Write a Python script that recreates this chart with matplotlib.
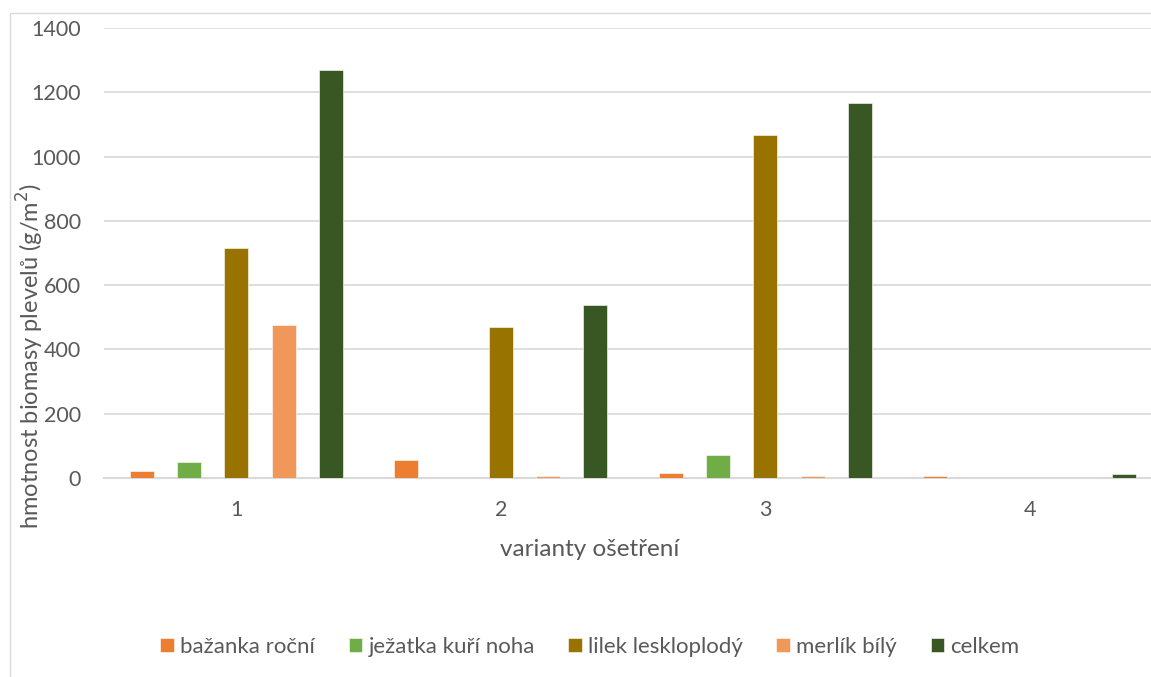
import numpy as np
import matplotlib.pyplot as plt
from matplotlib.patches import Rectangle

plt.rcParams['font.family'] = ['Lato', 'DejaVu Sans']

# data
varianty = ["1", "2", "3", "4"]
druhy = ["bažanka roční", "ježatka kuří noha", "lilek leskloplodý", "merlík bílý", "celkem"]
bazanka = [21, 57, 17, 7]
jezatka = [50, 0, 73, 0]
lilek = [715, 470, 1066, 0]
merlik = [476, 5, 6, 0]
celkem = [1269, 538, 1166, 11]
barvy = ["#ED7D31", "#70AD47", "#997300", "#F1975A", "#385723"]

W, H = 1151, 677
fig = plt.figure(figsize=(W / 100, H / 100), dpi=100)

# ramecek grafu (Excel)
fig.patches.append(Rectangle((10 / W, -0.1), 1.2, 1 - 13 / H + 0.1, transform=fig.transFigure,
                             fill=False, edgecolor="#D9D9D9", linewidth=1.0))

ax = fig.add_axes([104 / W, 1 - 478 / H, (1162 - 104) / W, (478 - 28) / H])

serie = [bazanka, jezatka, lilek, merlik, celkem]
x = np.arange(len(varianty))
krok = 0.179
sirka = 0.091
for i, (nazev, hodnoty, barva) in enumerate(zip(druhy, serie, barvy)):
    ax.bar(x + (i - 2) * krok, hodnoty, width=sirka, color=barva, label=nazev,
           edgecolor="white", linewidth=0.4, zorder=3)

ax.set_xlim(-0.5, 3.5)
ax.set_ylim(0, 1400)
ax.set_yticks(range(0, 1401, 200))
ax.set_xticks(x)
ax.set_xticklabels(varianty)
ax.grid(axis="y", color="#D9D9D9", linewidth=1.2, zorder=0)
for s in ["top", "right", "left"]:
    ax.spines[s].set_visible(False)
ax.spines["bottom"].set_color("#D9D9D9")
ax.spines["bottom"].set_linewidth(1.5)
ax.tick_params(length=0, labelsize=15.5, colors="#595959")
ax.tick_params(axis="y", pad=16.5)
ax.tick_params(axis="x", pad=16)

ax.set_ylabel("hmotnost biomasy plevelů (g/m$^2$)", fontsize=17, color="#595959")
ax.yaxis.set_label_coords((46 - 104) / (1162 - 104), (478 - 356) / 450)
fig.text(590 / W, 1 - 549 / H, "varianty ošetření", fontsize=17.5, color="#595959",
         ha="center", va="center")

fig.legend(loc="center", bbox_to_anchor=(590 / W, 1 - 647 / H), ncol=5, frameon=False,
           fontsize=16, labelcolor="#595959", handlelength=0.6, handleheight=0.6,
           handletextpad=0.3, columnspacing=1.5)

fig.savefig("out.png", dpi=100)
